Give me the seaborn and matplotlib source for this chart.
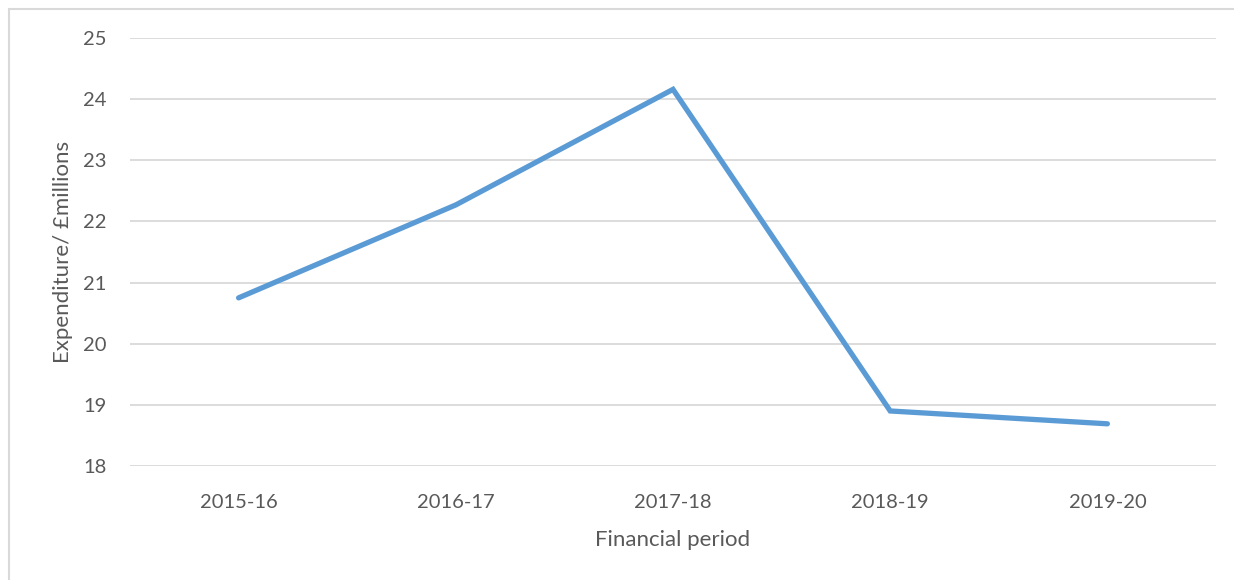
import matplotlib
matplotlib.use('Agg')
import matplotlib.pyplot as plt
import seaborn as sns
import pandas as pd
from matplotlib.lines import Line2D

periods = ['2015-16', '2016-17', '2017-18', '2018-19', '2019-20']
expenditure = [20.75, 22.27, 24.16, 18.90, 18.69]
y_ticks = [18, 19, 20, 21, 22, 23, 24, 25]

df = pd.DataFrame({'period': periods, 'expenditure': expenditure})

sns.set_style('white')
plt.rcParams['font.family'] = ['Lato', 'DejaVu Sans']
text_col = '#595959'

fig = plt.figure(figsize=(12.34, 5.8), dpi=100)
ax = fig.add_axes([130/1234, 1-466/580, (1216-130)/1234, (466-38)/580])

sns.lineplot(data=df, x='period', y='expenditure', ax=ax, color='#5B9BD5',
             linewidth=3.8, sort=False, solid_capstyle='round', solid_joinstyle='miter')

ax.set_xlim(-0.5, len(periods)-0.5)
ax.set_ylim(18, 25)
ax.set_yticks(y_ticks)
for y in y_ticks:
    ax.axhline(y, color='#D9D9D9', linewidth=1.3, zorder=0)
for s in ax.spines.values():
    s.set_visible(False)
ax.tick_params(length=0, labelsize=14.5, colors=text_col)
ax.tick_params(axis='y', pad=17)
ax.tick_params(axis='x', pad=20)
ax.set_xlabel('Financial period', fontsize=16, color=text_col, labelpad=14)
ax.set_ylabel('Expenditure/ £millions', fontsize=16, color=text_col, labelpad=7)

# chart frame
fig.add_artist(Line2D([9/1234, 9/1234], [0, 1-9/580], color='#D9D9D9', linewidth=1.5))
fig.add_artist(Line2D([9/1234, 1], [1-9/580, 1-9/580], color='#D9D9D9', linewidth=1.5))

fig.savefig('out.png', dpi=100)
